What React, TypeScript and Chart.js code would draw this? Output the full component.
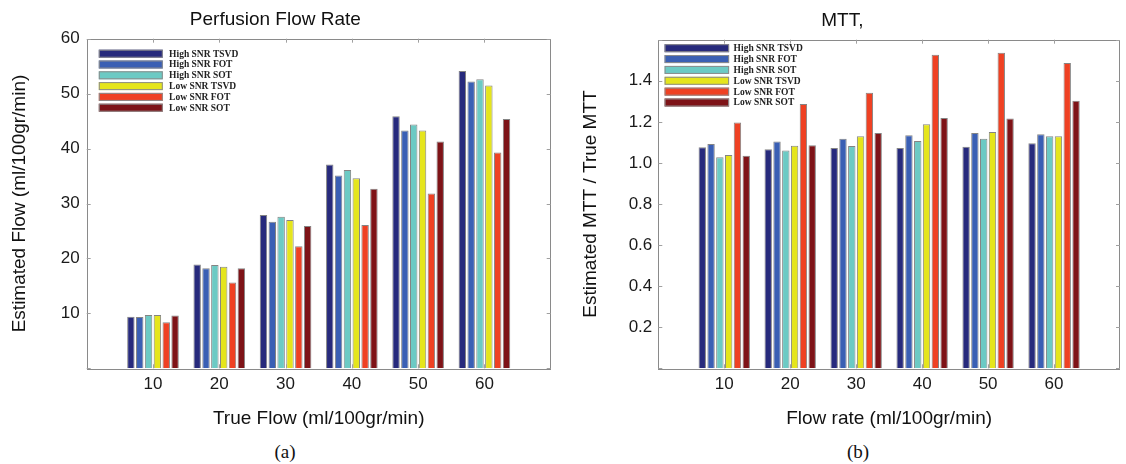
import React, { useEffect, useRef } from 'react';
import { Chart, registerables } from 'chart.js';

Chart.register(...registerables);

// ---------- data ----------
const categories = ['10', '20', '30', '40', '50', '60'];
const xLabels = ['', ...categories, ''];
const seriesNames = ['High SNR TSVD', 'High SNR FOT', 'High SNR SOT', 'Low SNR TSVD', 'Low SNR FOT', 'Low SNR SOT'];
const seriesColors = ['#272a7c', '#3a5fb4', '#6ccac4', '#e5e51c', '#ef4123', '#7e1317'];

const flowHighTSVD = [9.4, 18.9, 27.9, 37.1, 45.9, 54.1];
const flowHighFOT = [9.35, 18.2, 26.7, 35.1, 43.3, 52.2];
const flowHighSOT = [9.7, 18.8, 27.6, 36.1, 44.4, 52.6];
const flowLowTSVD = [9.7, 18.5, 27.0, 34.6, 43.3, 51.5];
const flowLowFOT = [8.4, 15.6, 22.2, 26.1, 31.8, 39.3];
const flowLowSOT = [9.6, 18.2, 25.9, 32.7, 41.3, 45.4];

const mttHighTSVD = [1.076, 1.067, 1.073, 1.073, 1.079, 1.096];
const mttHighFOT = [1.092, 1.104, 1.118, 1.135, 1.146, 1.14];
const mttHighSOT = [1.028, 1.06, 1.083, 1.107, 1.118, 1.13];
const mttLowTSVD = [1.038, 1.084, 1.13, 1.188, 1.151, 1.13];
const mttLowFOT = [1.197, 1.287, 1.342, 1.527, 1.536, 1.486];
const mttLowSOT = [1.035, 1.086, 1.146, 1.219, 1.216, 1.303];

const flowTickLabels = ['10', '20', '30', '40', '50', '60'];
const mttTickLabels = ['0.2', '0.4', '0.6', '0.8', '1.0', '1.2', '1.4'];

const flowSeries = [flowHighTSVD, flowHighFOT, flowHighSOT, flowLowTSVD, flowLowFOT, flowLowSOT];
const mttSeries = [mttHighTSVD, mttHighFOT, mttHighSOT, mttLowTSVD, mttLowFOT, mttLowSOT];

// ---------- style ----------
const SANS = '"Liberation Sans", Arial, Helvetica, sans-serif';
const SERIF = '"Liberation Serif", "Times New Roman", serif';

const framePlugin = {
  id: 'matlabFrame',
  afterDatasetsDraw(chart: any) {
    const { ctx, chartArea: a, scales } = chart;
    ctx.save();
    ctx.strokeStyle = '#8a8a8a';
    ctx.lineWidth = 1;
    ctx.strokeRect(Math.round(a.left) + 0.5, Math.round(a.top) + 0.5, Math.round(a.right - a.left) - 1, Math.round(a.bottom - a.top));
    const tl = 4;
    ctx.strokeStyle = '#a0a0a0';
    ctx.beginPath();
    scales.y.ticks.forEach((t: any) => {
      const y = Math.round(scales.y.getPixelForValue(t.value)) + 0.5;
      ctx.moveTo(a.left, y);
      ctx.lineTo(a.left + tl, y);
      ctx.moveTo(a.right, y);
      ctx.lineTo(a.right - tl, y);
    });
    scales.x.ticks.forEach((t: any, i: number) => {
      const lbl = scales.x.getLabelForValue(t.value);
      if (!lbl) return;
      const x = Math.round(scales.x.getPixelForTick(i)) + 0.5;
      ctx.moveTo(x, a.bottom);
      ctx.lineTo(x, a.bottom - tl);
      ctx.moveTo(x, a.top);
      ctx.lineTo(x, a.top + tl);
    });
    ctx.stroke();
    ctx.restore();
  },
};

const legendPlugin = {
  id: 'insideLegend',
  afterDraw(chart: any, _args: any, opts: any) {
    const { ctx, chartArea: a } = chart;
    const x0 = a.left + opts.dx;
    const y0 = a.top + opts.dy;
    ctx.save();
    chart.data.datasets.forEach((ds: any, i: number) => {
      const y = y0 + i * opts.pitch;
      ctx.fillStyle = ds.backgroundColor;
      ctx.fillRect(x0, y, opts.w, opts.h);
      ctx.strokeStyle = '#8c8c8c';
      ctx.lineWidth = 1;
      ctx.strokeRect(x0 + 0.5, y + 0.5, opts.w - 1, opts.h - 1);
      ctx.fillStyle = '#222';
      ctx.font = 'bold 9.5px ' + SERIF;
      ctx.textBaseline = 'middle';
      ctx.textAlign = 'left';
      ctx.fillText(ds.label, x0 + opts.w + opts.gap, y + opts.h / 2 + 0.5);
    });
    ctx.restore();
  },
};

type PanelProps = {
  width: number;
  height: number;
  left: number;
  title: string;
  xTitle: string;
  yTitle: string;
  series: number[][];
  yMax: number;
  yStep: number;
  yTickLabels: string[];
  yDecimals: number;
  yAxisWidth: number;
  yTitlePad: number;
  yTickPad: number;
  padRight: number;
  titlePadTop: number;
  titlePadBottom: number;
  plotBottom: number;
  legend: { dx: number; dy: number; w: number; h: number; pitch: number; gap: number };
};

function Panel(p: PanelProps) {
  const ref = useRef<HTMLCanvasElement | null>(null);
  useEffect(() => {
    if (!ref.current) return;
    const datasets = p.series.map((vals, i) => ({
      label: seriesNames[i],
      data: [null, ...vals, null],
      backgroundColor: seriesColors[i],
      borderColor: 'rgba(110,110,110,0.85)',
      borderWidth: 1,
      categoryPercentage: 0.8,
      barPercentage: 0.84,
    }));
    const chart = new Chart(ref.current, {
      type: 'bar',
      data: { labels: xLabels, datasets },
      plugins: [framePlugin, legendPlugin],
      options: {
        responsive: false,
        animation: false,
        devicePixelRatio: 1,
        events: [],
        layout: { padding: { left: 0, right: p.padRight, top: 0, bottom: 0 } },
        plugins: {
          legend: { display: false },
          tooltip: { enabled: false },
          title: {
            display: true,
            text: p.title,
            color: '#111',
            font: { family: SANS, size: 19, weight: 'normal', lineHeight: 1.2 },
            padding: { top: p.titlePadTop, bottom: p.titlePadBottom },
          },
          insideLegend: p.legend,
        } as any,
        scales: {
          x: {
            type: 'category',
            offset: false,
            grid: { display: false, drawTicks: false },
            border: { display: false },
            ticks: {
              autoSkip: false,
              maxRotation: 0,
              minRotation: 0,
              padding: 6,
              color: '#1a1a1a',
              font: { family: SANS, size: 17 },
            },
            title: {
              display: true,
              text: p.xTitle,
              color: '#111',
              font: { family: SANS, size: 19, lineHeight: 1.2 },
              padding: { top: 0, bottom: 9.6 },
            },
            afterFit: (s: any) => {
              s.height = p.height - p.plotBottom;
            },
          },
          y: {
            type: 'linear',
            min: 0,
            max: p.yMax,
            grid: { display: false, drawTicks: false },
            border: { display: false },
            ticks: {
              stepSize: p.yStep,
              padding: p.yTickPad,
              color: '#1a1a1a',
              font: { family: SANS, size: 17 },
              callback: (v: any) => {
                const s = Number(v).toFixed(p.yDecimals);
                return p.yTickLabels.includes(s) ? s : '';
              },
            },
            title: {
              display: true,
              text: p.yTitle,
              color: '#111',
              font: { family: SANS, size: 19, lineHeight: 1.2 },
              padding: { top: p.yTitlePad, bottom: 0 },
            },
            afterFit: (s: any) => {
              s.width = p.yAxisWidth;
            },
          },
        },
      } as any,
    });
    return () => chart.destroy();
  }, []);
  return (
    <canvas
      ref={ref}
      width={p.width}
      height={p.height}
      style={{ position: 'absolute', left: p.left, top: 0, width: p.width, height: p.height }}
    />
  );
}

const captionStyle: React.CSSProperties = {
  position: 'absolute',
  top: 441,
  width: 60,
  textAlign: 'center',
  fontFamily: SERIF,
  fontSize: 19,
  lineHeight: '22px',
  color: '#111',
};

export default function App() {
  return (
    <div style={{ position: 'absolute', left: 0, top: 0, width: 1126, height: 464, background: '#fff', overflow: 'hidden' }}>
      <Panel
        width={563}
        height={440}
        left={0}
        title="Perfusion Flow Rate"
        xTitle="True Flow (ml/100gr/min)"
        yTitle="Estimated Flow (ml/100gr/min)"
        series={flowSeries}
        yMax={60}
        yStep={10}
        yTickLabels={flowTickLabels}
        yDecimals={0}
        yAxisWidth={86.7}
        yTitlePad={8.6}
        yTickPad={7}
        padRight={12.3}
        titlePadTop={8.7}
        titlePadBottom={7.2}
        plotBottom={368.3}
        legend={{ dx: 12.1, dy: 11, w: 64, h: 8, pitch: 10.8, gap: 6.3 }}
      />
      <Panel
        width={563}
        height={440}
        left={563}
        title="MTT,"
        xTitle="Flow rate (ml/100gr/min)"
        yTitle="Estimated MTT / True MTT"
        series={mttSeries}
        yMax={1.6}
        yStep={0.2}
        yTickLabels={mttTickLabels}
        yDecimals={1}
        yAxisWidth={95.3}
        yTitlePad={16.3}
        yTickPad={6}
        padRight={4.3}
        titlePadTop={9.5}
        titlePadBottom={7.4}
        plotBottom={368.3}
        legend={{ dx: 6.3, dy: 4.5, w: 64.5, h: 8, pitch: 10.86, gap: 4.5 }}
      />
      <div style={{ ...captionStyle, left: 285 - 30 }}>(a)</div>
      <div style={{ ...captionStyle, left: 858 - 30 }}>(b)</div>
    </div>
  );
}
